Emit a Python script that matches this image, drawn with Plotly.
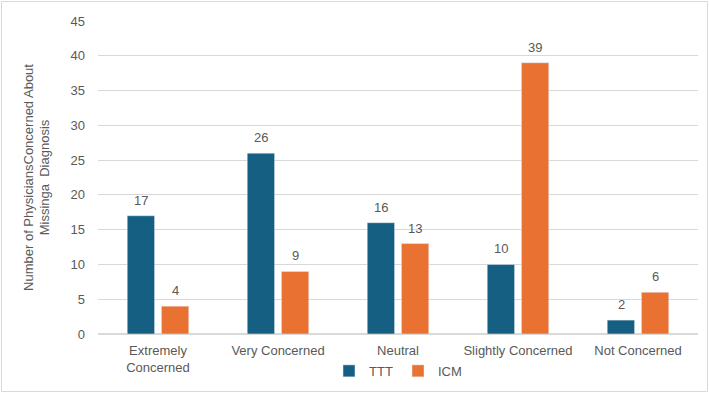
import plotly.graph_objects as go

categories = ["Extremely<br>Concerned", "Very Concerned", "Neutral", "Slightly Concerned", "Not Concerned"]
ttt = [17, 26, 16, 10, 2]
icm = [4, 9, 13, 39, 6]

W, H = 709, 393
ml, mr, mt, mb = 98, 11, 21, 59
pw, ph = W - ml - mr, H - mt - mb

gray = "#595959"
fig = go.Figure()
fig.add_bar(x=categories, y=ttt, name="TTT", marker_color="#156082")
fig.add_bar(x=categories, y=icm, name="ICM", marker_color="#E97132")

# data labels above bars
for vals, shift in ((ttt, -17), (icm, 17)):
    for c, v in zip(categories, vals):
        fig.add_annotation(x=c, y=v, text=str(v), showarrow=False, xshift=shift,
                           yanchor="bottom", yshift=6, font=dict(size=13, color=gray))

fig.update_layout(
    width=W, height=H,
    margin=dict(l=ml, r=mr, t=mt, b=mb, autoexpand=False),
    paper_bgcolor="white", plot_bgcolor="white",
    font=dict(family="Liberation Sans, Arial, sans-serif", color=gray, size=13),
    barmode="group", bargap=0.43, bargroupgap=0.2,
    showlegend=True,
    legend=dict(orientation="h", x=0.5, xanchor="center", y=-0.07, yanchor="top",
                font=dict(size=13, color=gray), itemwidth=30, tracegroupgap=0,
                bgcolor="rgba(0,0,0,0)", entrywidth=24, entrywidthmode="pixels"),
    yaxis=dict(range=[0, 45], dtick=5, showgrid=True, gridcolor="#D9D9D9",
               zeroline=True, zerolinecolor="#D9D9D9", ticks="", ticklen=0,
               ticklabelstandoff=12,
               title=dict(text="Number of PhysiciansConcerned About<br>Missinga  Diagnosis",
                          font=dict(size=13, color=gray), standoff=17)),
    xaxis=dict(showgrid=False, ticks="", showline=True, linecolor="#D9D9D9",
               ticklabelstandoff=4, tickfont=dict(size=13, color=gray)),
)
fig.add_shape(type="rect", xref="paper", yref="paper",
              x0=-(ml - 1.5) / pw, x1=1 + (mr - 1.5) / pw,
              y0=-(mb - 1.5) / ph, y1=1 + (mt - 1.5) / ph,
              line=dict(color="#D9D9D9", width=1), layer="below")
fig.write_html("out.html")
